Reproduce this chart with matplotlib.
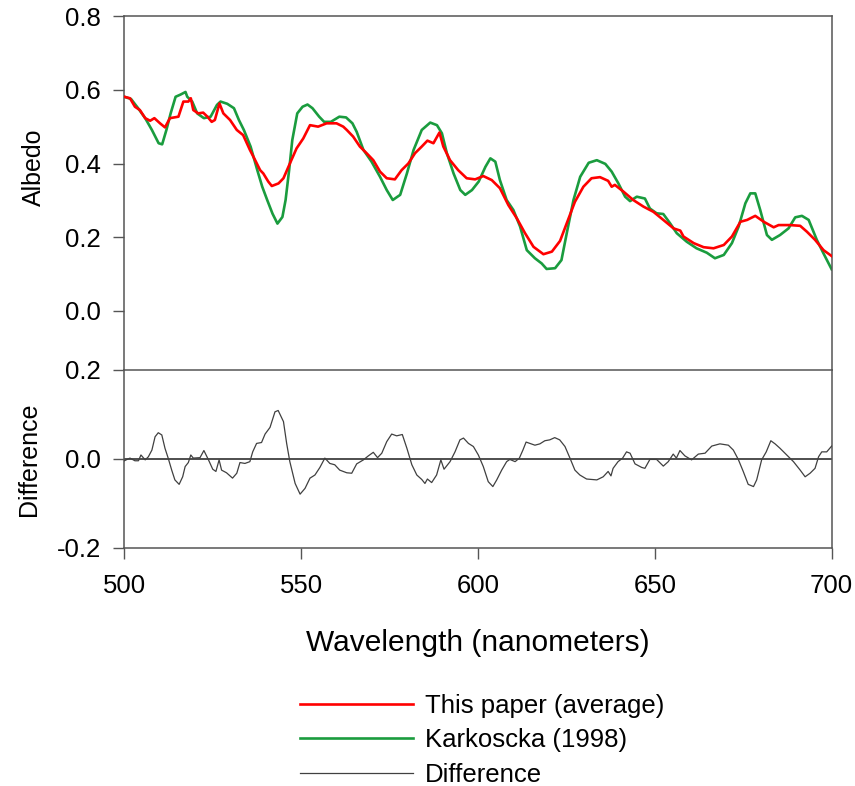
import matplotlib
matplotlib.use("Agg")
import matplotlib.pyplot as plt

plt.rcParams['font.family'] = ['Liberation Sans', 'DejaVu Sans']
plt.rcParams['axes.unicode_minus'] = False

# This paper (average)
red_wl = [500.0, 501.6, 503.0, 504.4, 505.9, 507.3, 508.5, 510.1, 511.5, 512.9, 515.3, 516.7,
          518.1, 518.8, 519.5, 520.9, 522.3, 523.5, 524.7, 525.6, 526.9, 528.0, 529.9, 531.8,
          533.6, 535.5, 537.0, 538.4, 539.3, 540.7, 541.7, 543.6, 545.0, 546.4, 548.7, 550.6,
          552.5, 554.8, 557.2, 560.0, 561.9, 562.9, 564.7, 566.6, 568.5, 570.4, 572.3, 574.2,
          576.5, 578.4, 580.3, 582.2, 584.1, 585.7, 587.4, 589.1, 590.2, 592.1, 594.4, 596.8,
          599.2, 601.5, 603.9, 606.2, 608.6, 611.0, 613.3, 615.7, 618.5, 620.9, 623.2, 625.1,
          627.4, 629.8, 632.1, 634.5, 636.8, 637.8, 638.7, 641.1, 643.9, 646.8, 649.6, 652.4,
          655.3, 657.2, 658.1, 661.0, 663.8, 666.6, 669.5, 671.8, 674.2, 676.1, 678.4, 680.8,
          683.6, 685.0, 688.2, 691.1, 693.0, 695.3, 697.7, 700.0]
red_val = [0.581, 0.577, 0.554, 0.545, 0.523, 0.516, 0.523, 0.509, 0.498, 0.523, 0.527, 0.568,
           0.568, 0.577, 0.545, 0.536, 0.538, 0.527, 0.513, 0.518, 0.563, 0.536, 0.518, 0.491,
           0.477, 0.437, 0.409, 0.382, 0.373, 0.351, 0.339, 0.346, 0.360, 0.391, 0.441, 0.468,
           0.504, 0.500, 0.509, 0.509, 0.500, 0.491, 0.473, 0.446, 0.428, 0.409, 0.378, 0.360,
           0.357, 0.382, 0.400, 0.428, 0.446, 0.462, 0.455, 0.484, 0.446, 0.409, 0.382, 0.360,
           0.357, 0.366, 0.355, 0.333, 0.287, 0.251, 0.211, 0.174, 0.154, 0.161, 0.190, 0.238,
           0.296, 0.337, 0.360, 0.363, 0.353, 0.337, 0.342, 0.324, 0.301, 0.283, 0.269, 0.247,
           0.224, 0.218, 0.202, 0.184, 0.173, 0.170, 0.179, 0.202, 0.242, 0.247, 0.258, 0.242,
           0.227, 0.233, 0.233, 0.231, 0.215, 0.193, 0.165, 0.149]

# Karkoscka (1998)
green_wl = [500.0, 501.9, 503.9, 505.9, 507.8, 509.7, 510.7, 511.9, 513.1, 514.5, 515.9, 517.3,
            517.8, 519.2, 520.6, 522.5, 524.4, 526.2, 527.2, 529.1, 531.0, 532.4, 533.8, 535.7,
            537.6, 539.0, 540.4, 541.9, 543.3, 544.7, 545.6, 546.6, 547.5, 548.9, 550.4, 551.8,
            553.2, 555.1, 556.5, 558.4, 560.8, 562.7, 564.5, 565.7, 567.6, 569.9, 572.3, 574.2,
            575.9, 578.0, 579.9, 581.8, 584.1, 586.5, 588.4, 589.8, 591.2, 593.1, 595.0, 596.4,
            598.3, 600.2, 602.1, 603.5, 604.9, 606.2, 608.1, 610.0, 611.9, 613.8, 616.1, 618.0,
            619.4, 621.8, 623.6, 625.1, 627.0, 628.9, 631.3, 633.6, 636.0, 637.8, 639.7, 641.6,
            643.0, 644.9, 647.2, 648.6, 650.5, 652.4, 654.3, 656.2, 659.0, 661.8, 664.7, 667.0,
            669.5, 671.8, 673.7, 675.6, 677.0, 678.4, 679.8, 681.7, 683.1, 685.4, 687.8, 689.7,
            691.6, 693.5, 695.8, 697.7, 700.0]
green_val = [0.581, 0.575, 0.550, 0.523, 0.491, 0.455, 0.452, 0.491, 0.536, 0.581, 0.587, 0.594,
             0.581, 0.568, 0.536, 0.523, 0.527, 0.559, 0.568, 0.562, 0.550, 0.518, 0.491, 0.446,
             0.382, 0.337, 0.301, 0.264, 0.237, 0.255, 0.301, 0.382, 0.464, 0.536, 0.554, 0.560,
             0.550, 0.527, 0.513, 0.513, 0.527, 0.525, 0.509, 0.486, 0.437, 0.405, 0.364, 0.328,
             0.301, 0.315, 0.373, 0.437, 0.491, 0.511, 0.504, 0.482, 0.428, 0.373, 0.328, 0.315,
             0.328, 0.351, 0.391, 0.414, 0.405, 0.355, 0.301, 0.274, 0.229, 0.165, 0.143, 0.129,
             0.114, 0.116, 0.138, 0.211, 0.301, 0.364, 0.402, 0.409, 0.399, 0.378, 0.346, 0.310,
             0.298, 0.310, 0.305, 0.278, 0.265, 0.263, 0.238, 0.211, 0.188, 0.170, 0.158, 0.143,
             0.152, 0.184, 0.229, 0.292, 0.319, 0.319, 0.274, 0.206, 0.193, 0.206, 0.224, 0.254,
             0.258, 0.247, 0.193, 0.156, 0.113]

# Difference
diff_wl = [500.0, 501.6, 503.0, 504.0, 504.7, 505.9, 506.8, 507.8, 508.7, 509.6, 510.6, 511.5,
           512.4, 513.4, 514.3, 515.5, 516.5, 517.2, 518.1, 518.8, 519.5, 521.4, 522.5, 523.8,
           525.0, 525.9, 526.8, 527.5, 528.9, 530.6, 531.8, 532.7, 534.1, 535.5, 536.3, 537.4,
           538.8, 539.8, 541.2, 542.6, 543.5, 545.0, 545.9, 546.8, 548.3, 549.7, 551.1, 552.5,
           553.9, 555.3, 556.7, 558.1, 559.5, 560.9, 562.9, 564.3, 565.7, 567.6, 569.0, 570.4,
           571.6, 572.8, 574.2, 575.6, 577.0, 578.6, 579.9, 581.3, 582.7, 584.1, 585.0, 585.7,
           586.9, 588.3, 589.5, 590.4, 592.1, 593.5, 594.9, 595.9, 597.3, 598.7, 600.1, 601.5,
           602.9, 604.2, 605.3, 606.7, 608.1, 609.0, 610.5, 611.7, 612.7, 613.6, 614.7, 616.1,
           617.5, 618.9, 620.3, 621.7, 623.1, 624.6, 626.0, 627.4, 628.8, 630.7, 633.6, 635.4,
           636.8, 637.6, 638.2, 639.6, 640.9, 642.0, 643.0, 644.4, 646.3, 647.2, 648.6, 650.5,
           652.4, 653.8, 655.2, 656.1, 657.1, 658.5, 660.4, 662.3, 664.2, 666.1, 668.4, 670.8,
           672.2, 673.6, 675.0, 676.4, 677.9, 678.8, 680.2, 681.5, 682.8, 684.0, 685.4, 687.3,
           689.2, 691.1, 692.5, 693.9, 695.3, 696.3, 697.2, 698.6, 700.0]
diff_val = [-0.004, 0.002, -0.004, -0.004, 0.009, -0.002, 0.005, 0.020, 0.050, 0.059, 0.054, 0.024,
            0.002, -0.025, -0.047, -0.057, -0.040, -0.017, -0.008, 0.009, 0.002, 0.003, 0.019, -0.002,
            -0.023, -0.028, -0.002, -0.025, -0.031, -0.043, -0.032, -0.008, -0.010, -0.006, 0.016, 0.035,
            0.037, 0.056, 0.071, 0.106, 0.109, 0.084, 0.035, -0.006, -0.055, -0.079, -0.066, -0.043,
            -0.036, -0.019, 0.002, -0.010, -0.013, -0.025, -0.031, -0.032, -0.011, -0.002, 0.007, 0.015,
            0.003, 0.013, 0.039, 0.056, 0.052, 0.055, 0.024, -0.013, -0.036, -0.046, -0.055, -0.045,
            -0.053, -0.036, -0.002, -0.023, -0.006, 0.016, 0.043, 0.047, 0.035, 0.028, 0.009, -0.017,
            -0.051, -0.062, -0.047, -0.025, -0.006, -0.001, -0.006, 0.002, 0.020, 0.038, 0.035, 0.031,
            0.034, 0.041, 0.043, 0.048, 0.043, 0.028, 0.002, -0.025, -0.036, -0.045, -0.047, -0.040,
            -0.028, -0.038, -0.021, -0.006, 0.002, 0.016, 0.013, -0.011, -0.019, -0.021, -0.001, -0.001,
            -0.016, -0.006, 0.011, 0.002, 0.019, 0.007, -0.002, 0.011, 0.013, 0.029, 0.034, 0.031,
            0.020, -0.001, -0.028, -0.057, -0.062, -0.047, -0.002, 0.016, 0.041, 0.034, 0.024, 0.009,
            -0.006, -0.025, -0.040, -0.032, -0.021, 0.005, 0.016, 0.016, 0.029]

upper_ticks = [0.0, 0.2, 0.4, 0.6, 0.8]
lower_ticks = [-0.2, 0.0, 0.2]
x_ticks = [500, 550, 600, 650, 700]

red = '#ff0000'
green = '#1a9c3e'
dark = '#404040'
spine_c = '#555555'

fig = plt.figure(figsize=(8.55, 7.86), dpi=100)
left, right = 0.1454, 0.9727
ax1 = fig.add_axes([left, 0.5293, right - left, 0.9796 - 0.5293])
ax2 = fig.add_axes([left, 0.3028, right - left, 0.5293 - 0.3028])

l1, = ax1.plot(red_wl, red_val, color=red, lw=1.9, label='This paper (average)', zorder=3)
l2, = ax1.plot(green_wl, green_val, color=green, lw=1.9, label='Karkoscka (1998)', zorder=2)
l3, = ax2.plot(diff_wl, diff_val, color=dark, lw=0.9, label='Difference', zorder=3)
ax2.axhline(0, color=dark, lw=1.3, zorder=2)

ax1.set_xlim(500, 700)
ax1.set_ylim(-0.16, 0.8)
ax2.set_xlim(500, 700)
ax2.set_ylim(-0.2, 0.2)

for ax in (ax1, ax2):
    for s in ax.spines.values():
        s.set_color(spine_c)
        s.set_linewidth(1.1)
    ax.tick_params(axis='both', direction='out', length=8, width=1.0,
                   color=spine_c, labelsize=18.5, pad=9)

ax1.spines['bottom'].set_visible(False)
ax1.set_yticks(upper_ticks)
ax1.set_yticklabels([f'{t:.1f}' for t in upper_ticks])
ax1.set_xticks([])
ax1.set_ylabel('Albedo', fontsize=18)
ax1.yaxis.set_label_coords(-0.111, 0.572)

ax2.set_yticks(lower_ticks)
ax2.set_yticklabels([f'{t:.1f}' for t in lower_ticks])
ax2.set_xticks(x_ticks)
ax2.tick_params(axis='x', pad=11)
ax2.set_ylabel('Difference', fontsize=18)
ax2.yaxis.set_label_coords(-0.118, 0.5)
ax2.set_xlabel('Wavelength (nanometers)', fontsize=21.5, labelpad=22)

fig.legend(handles=[l1, l2, l3], loc='upper left', bbox_to_anchor=(0.351, 0.117),
           frameon=False, fontsize=18.5, handlelength=4.4, handletextpad=0.45,
           labelspacing=0.4, borderpad=0, borderaxespad=0)

fig.savefig('out.png', dpi=100)
